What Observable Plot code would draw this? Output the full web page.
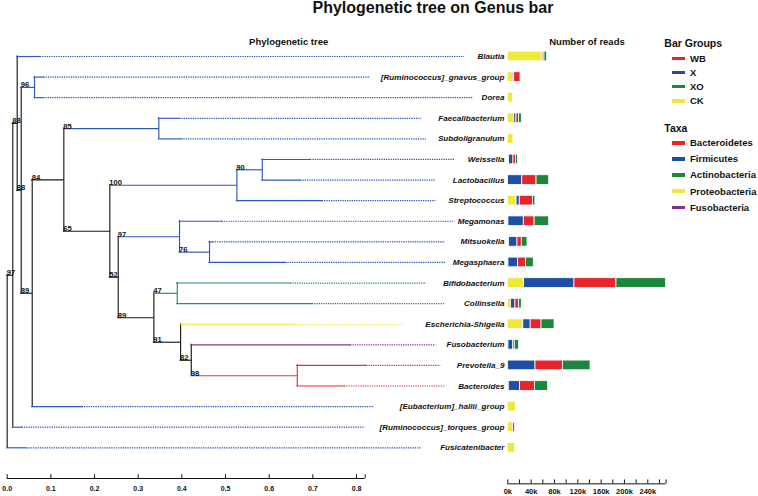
<!DOCTYPE html>
<html><head><meta charset="utf-8">
<script src="https://cdn.jsdelivr.net/npm/d3@7"></script>
<script src="https://cdn.jsdelivr.net/npm/@observablehq/plot@0.6"></script>
<style>
body{margin:0;background:#fff;font-family:"Liberation Sans",Arial,sans-serif;}
#wrap{position:relative;width:758px;height:496px;overflow:hidden;background:#fff;}
.t{position:absolute;white-space:nowrap;font-weight:bold;color:#111;line-height:1;}
.sw{position:absolute;}
svg{position:absolute;top:30px;}
</style></head><body><div id="wrap"></div>
<script>
// ---------- data ----------
const title = "Phylogenetic tree on Genus bar";
const genera = ["Blautia","[Ruminococcus]_gnavus_group","Dorea","Faecalibacterium","Subdoligranulum","Weissella","Lactobacillus","Streptococcus","Megamonas","Mitsuokella","Megasphaera","Bifidobacterium","Collinsella","Escherichia-Shigella","Fusobacterium","Prevotella_9","Bacteroides","[Eubacterium]_hallii_group","[Ruminococcus]_torques_group","Fusicatenibacter"];
const phylum = ["Firmicutes","Firmicutes","Firmicutes","Firmicutes","Firmicutes","Firmicutes","Firmicutes","Firmicutes","Firmicutes","Firmicutes","Firmicutes","Actinobacteria","Actinobacteria","Proteobacteria","Fusobacteria","Bacteroidetes","Bacteroidetes","Firmicutes","Firmicutes","Firmicutes"];

// reads per bar group (stack order CK, X, WB, XO)
const groups = ["CK","X","WB","XO"];
const CK = [58300,8600,9100,11100,9700,2300,300,15100,1100,2300,1100,28000,5400,26600,1100,600,1700,13700,9100,12600];
const X  = [1700,2300,0,3700,0,7400,24500,5400,26300,14300,16600,86300,7700,12600,8300,46900,19400,0,0,0];
const WB = [2900,10900,0,4600,0,4300,24500,22900,18600,7400,13700,72000,6300,18600,2600,46900,25700,0,3000,0];
const XO = [4600,0,0,4600,0,3700,21600,4000,24900,9700,13100,85100,4600,22300,7400,47400,22300,0,0,0];

// tree: node, parent, branch length, bootstrap support
const nodeId = ["A","B","C","N96","D","E","F","G","H","I","K","L","N76","M","N47","N91","N82","N98",
  "Blautia","[Ruminococcus]_gnavus_group","Dorea","Faecalibacterium","Subdoligranulum","Weissella","Lactobacillus","Streptococcus","Megamonas","Mitsuokella","Megasphaera","Bifidobacterium","Collinsella","Escherichia-Shigella","Fusobacterium","Prevotella_9","Bacteroides","[Eubacterium]_hallii_group","[Ruminococcus]_torques_group","Fusicatenibacter"];
const nodeParent = ["root","A","B","C","C","D","E","E","G","H","G","K","L","K","M","M","N91","N82",
  "B","N96","N96","F","F","I","I","H","L","N76","N76","N47","N47","N91","N82","N98","N98","D","A","root"];
const branchLength = [0.0128,0.0101,0.0092,0.0305,0.0252,0.0724,0.2176,0.1054,0.2909,0.0582,0.0192,0.1404,0.0687,0.0816,0.0536,0.0612,0.0245,0.2428,
  0.0534,0.0213,0.0206,0.0474,0.0520,0.1107,0.0877,0.1956,0.0978,0.0080,0.1741,0.2596,0.3093,0.2635,0.3650,0.1588,0.1084,0.1145,0.0215,0.0442];
const support = [97,88,88,96,89,84,85,65,100,90,52,97,76,89,47,91,82,98,
  null,null,null,null,null,null,null,null,null,null,null,null,null,null,null,null,null,null,null,null];

const treeTicks = [0,0.1,0.2,0.3,0.4,0.5,0.6,0.7,0.8];
const treeAxisEnd = 0.82;
const readTicks = [0,20000,40000,60000,80000,100000,120000,140000,160000,180000,200000,220000,240000,260000];
const readLabels = [0,40000,80000,120000,160000,200000,240000];

const taxa = ["Bacteroidetes","Firmicutes","Actinobacteria","Proteobacteria","Fusobacteria"];
const taxaColors = ["#e8242a","#1f4ea6","#1c873c","#eee83a","#8a2b8e"];
const legendGroups = ["WB","X","XO","CK"];
const legendGroupColors = ["#e8242a","#1f4ea6","#1c873c","#eee83a"];

// ---------- derived ----------
const groupColor = Object.fromEntries(legendGroups.map((g,i)=>[g,legendGroupColors[i]]));
const treeLineColor = {Firmicutes:"#2a58bb",Bacteroidetes:"#e92d31",Actinobacteria:"#2a9150",Proteobacteria:"#ece22a",Fusobacteria:"#8c3392"};

const nodes = new Map();
nodes.set("root",{id:"root",parentId:null,len:0,children:[]});
nodeId.forEach((id,i)=>nodes.set(id,{id,parentId:nodeParent[i],len:branchLength[i],support:support[i],children:[]}));
for (const n of nodes.values()) if (n.parentId) nodes.get(n.parentId).children.push(n);
function layout(n, depth){
  n.depth = depth;
  n.children.forEach(c=>layout(c, depth + c.len));
  if (n.children.length){
    n.y = d3.mean(n.children, c=>c.y);
    const ph = new Set(n.children.map(c=>c.phylum));
    n.phylum = ph.size===1 ? [...ph][0] : null;
  } else {
    const i = genera.indexOf(n.id);
    n.y = i; n.phylum = phylum[i];
  }
}
layout(nodes.get("root"), 0);
const BLACK = "#1a1a1a";
const colorOf = n => n.phylum ? treeLineColor[n.phylum] : BLACK;

const pxPerUnit = (356-6.7)/0.8;
const labelX = (504-6.7)/pxPerUnit;
const hSegs=[], vSegs=[], dots=[], supLabels=[], leafLabels=[];
for (const n of nodes.values()){
  if (n.parentId){
    const p = nodes.get(n.parentId);
    hSegs.push({x1:p.depth,x2:n.depth,y:n.y,color:colorOf(n)});
    if (n.support!=null) supLabels.push({x:p.depth,y:n.y,text:String(n.support)});
  }
  if (n.children.length){
    vSegs.push({x:n.depth,y1:d3.min(n.children,c=>c.y),y2:d3.max(n.children,c=>c.y),color:colorOf(n)});
  } else {
    const end = labelX - (4.73*n.id.length + 7)/pxPerUnit;
    dots.push({x1:n.depth,x2:end,y:n.y,color:colorOf(n)});
    leafLabels.push({y:n.y,text:n.id});
  }
}
const blackFirst = a => a.sort((p,q)=>(p.color===BLACK?0:1)-(q.color===BLACK?0:1));
blackFirst(hSegs); blackFirst(vSegs);

const font = "Liberation Sans, Arial, sans-serif";
const yRows = {domain:[0,19], range:[26,417.3], axis:null};

const tree = Plot.plot({
  width:505, height:466, margin:0,
  x:{domain:[0,0.8], range:[6.7,356], axis:null},
  y:yRows,
  style:{fontFamily:font, background:"transparent", overflow:"visible"},
  marks:[
    Plot.ruleY(dots,{y:"y",x1:"x1",x2:"x2",stroke:d=>d.color,strokeWidth:1.2,strokeDasharray:"1.3,1"}),
    Plot.ruleX(vSegs,{x:"x",y1:"y1",y2:"y2",stroke:d=>d.color,strokeWidth:1.15,strokeLinecap:"square"}),
    Plot.ruleY(hSegs,{y:"y",x1:"x1",x2:"x2",stroke:d=>d.color,strokeWidth:1.15,strokeLinecap:"square"}),
    Plot.text(supLabels,{x:"x",y:"y",text:"text",textAnchor:"start",lineAnchor:"bottom",dx:-0.5,fontSize:7.6,fontWeight:"bold",fill:"#111"}),
    Plot.text(leafLabels,{x:()=>labelX,y:"y",text:"text",textAnchor:"end",lineAnchor:"middle",fontSize:8.1,fontWeight:"bold",fontStyle:"italic",fill:"#111"}),
    Plot.ruleY([20.49],{x1:0,x2:treeAxisEnd,stroke:"#111",strokeWidth:1}),
    Plot.ruleX([...treeTicks,treeAxisEnd],{x:d=>d,y1:20.31,y2:20.49,stroke:"#111",strokeWidth:1}),
    Plot.text(treeTicks,{x:d=>d,y:21.01,text:d=>d3.format(".1f")(d),lineAnchor:"middle",fontSize:7,fontWeight:"bold",fill:"#111"})
  ]
});
tree.style.left = "0px";

const groupValues = {CK,X,WB,XO};
const segs = [];
const totals = genera.map((g,i)=>{
  let acc = 0;
  for (const k of groups){
    const v = groupValues[k][i];
    if (v>0){ segs.push({row:i,x1:acc,x2:acc+v,group:k}); acc += v; }
  }
  return acc;
});
const maxTotal = d3.max(totals);

const bars = Plot.plot({
  width:253, height:466, margin:0,
  x:{domain:[0,240000], range:[2.3,142.3], axis:null},
  y:yRows,
  style:{fontFamily:font, background:"transparent", overflow:"visible"},
  marks:[
    Plot.rect(segs,{x1:"x1",x2:"x2",y1:d=>d.row-0.235,y2:d=>d.row+0.235,fill:d=>groupColor[d.group],stroke:"white",strokeWidth:0.8}),
    Plot.ruleY([20.75],{x1:0,x2:maxTotal,stroke:"#111",strokeWidth:1}),
    Plot.ruleX([...readTicks,maxTotal],{x:d=>d,y1:20.56,y2:20.75,stroke:"#111",strokeWidth:1}),
    Plot.text(readLabels,{x:d=>d,y:21.12,text:d=>d/1000+"k",lineAnchor:"middle",fontSize:7.5,fontWeight:"bold",fill:"#111"})
  ]
});
bars.style.left = "505px";

const wrap = document.getElementById("wrap");
wrap.appendChild(tree);
wrap.appendChild(bars);

// ---------- text: title, headers, legend ----------
function addText(str, {left, baseline, center, size, anchor="start"}){
  const d = document.createElement("div");
  d.className = "t";
  d.textContent = str;
  d.style.fontSize = size+"px";
  d.style.left = left+"px";
  d.style.top = Math.max(0, (baseline!=null ? baseline-0.8465*size : center-0.4865*size))+"px";
  if (anchor==="middle") d.style.transform = "translateX(-50%)";
  wrap.appendChild(d);
}
addText(title,{left:433,baseline:13.8,size:16,anchor:"middle"});
addText("Phylogenetic tree",{left:288.7,baseline:45,size:9.5,anchor:"middle"});
addText("Number of reads",{left:587,baseline:45,size:9.5,anchor:"middle"});

function addSwatch(color, cy){
  const s = document.createElement("div");
  s.className = "sw";
  s.style.cssText = `left:671.7px;top:${cy-1.75}px;width:13.3px;height:3.5px;background:${color};`;
  wrap.appendChild(s);
}
addText("Bar Groups",{left:664.3,baseline:46.7,size:10.5});
legendGroups.forEach((g,i)=>{
  const cy = 58.3 + i*14.2;
  addSwatch(legendGroupColors[i], cy);
  addText(g,{left:690,center:cy,size:9.5});
});
addText("Taxa",{left:664.3,baseline:131.7,size:10.5});
taxa.forEach((t,i)=>{
  const cy = 142.9 + i*16.1;
  addSwatch(taxaColors[i], cy);
  addText(t,{left:690,center:cy,size:9.5});
});
</script></body></html>
